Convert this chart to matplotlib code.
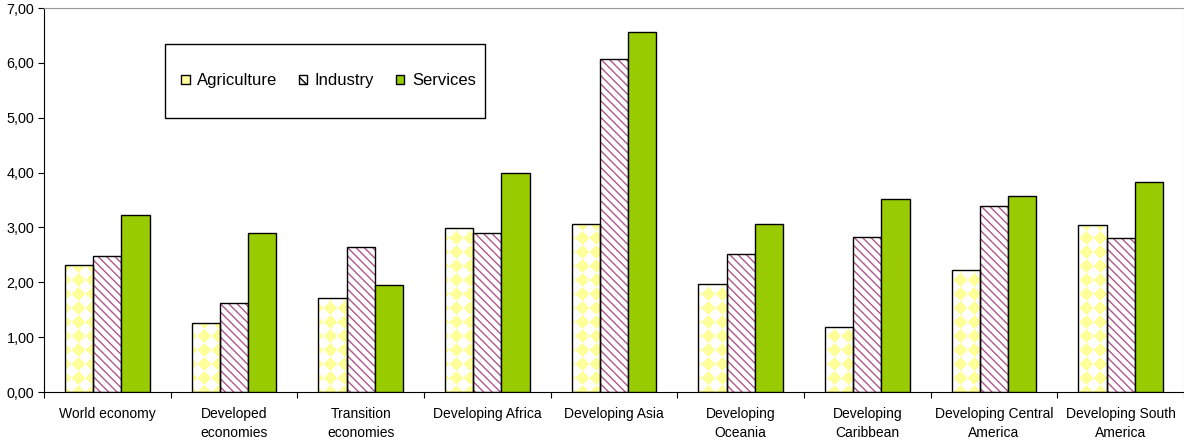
import numpy as np
import matplotlib.pyplot as plt
from matplotlib.patches import Patch, PathPatch, Rectangle
from matplotlib.path import Path
from matplotlib.colors import to_rgb
from matplotlib.ticker import FuncFormatter

plt.rcParams['font.family'] = ['Liberation Sans', 'DejaVu Sans']

# -------------------------------
# Data
# -------------------------------
regions = ['World economy', 'Developed\neconomies', 'Transition\neconomies',
           'Developing Africa', 'Developing Asia', 'Developing\nOceania',
           'Developing\nCaribbean', 'Developing Central\nAmerica',
           'Developing South\nAmerica']
agriculture = [2.31, 1.26, 1.71, 2.99, 3.06, 1.97, 1.18, 2.22, 3.04]
industry = [2.48, 1.62, 2.64, 2.90, 6.07, 2.52, 2.83, 3.39, 2.81]
services = [3.23, 2.90, 1.95, 3.99, 6.56, 3.06, 3.52, 3.57, 3.83]

yellow = '#FFFF99'
pink = '#B0578A'
green = '#99CC00'

# -------------------------------
# Figure
# -------------------------------
W, H = 1184, 444
axl, axb, axw, axh = 44, 52, 1140, 384
fig = plt.figure(figsize=(W / 100, H / 100), dpi=100)
ax = fig.add_axes([axl / W, axb / H, axw / W, axh / H])

x = np.arange(len(regions))
w = 0.222
ymax = 7

# agriculture: white bars, diamond pattern added below
agri_bars = ax.bar(x - w, agriculture, w, color='white', linewidth=0, zorder=1)

# industry: pink diagonal stripes on white
plt.rcParams['hatch.linewidth'] = 1.0
ax.bar(x, industry, w, color='white', edgecolor=pink, hatch='\\\\\\\\', linewidth=0, zorder=1)

# outlines for the patterned bars
ax.bar(x - w, agriculture, w, fill=False, edgecolor='black', linewidth=1, zorder=3)
ax.bar(x, industry, w, fill=False, edgecolor='black', linewidth=1, zorder=3)

# services: solid green
ax.bar(x + w, services, w, color=green, edgecolor='black', linewidth=1, zorder=3)

# yellow diamond checkerboard, clipped to the agriculture bars
s = 14.0
py, px = np.mgrid[0:axh, 0:axw] + 0.5
cell = (np.floor((px + py) / s) + np.floor((px - py) / s)) % 2
rgb = np.where(cell[..., None] == 0, np.array(to_rgb(yellow)), np.ones(3))
img = ax.imshow(rgb, extent=(-0.5, len(regions) - 0.5, 0, ymax), origin='lower',
                aspect='auto', interpolation='nearest', zorder=2)
paths = [b.get_path().transformed(b.get_patch_transform()) for b in agri_bars]
clip = PathPatch(Path.make_compound_path(*paths), transform=ax.transData,
                 facecolor='none', edgecolor='none')
ax.add_patch(clip)
img.set_clip_path(clip)

ax.set_xlim(-0.5, len(regions) - 0.5)
ax.set_ylim(0, ymax)
ax.set_yticks(np.arange(0, ymax + 1, 1))
ax.yaxis.set_major_formatter(FuncFormatter(lambda v, p: f'{v:.2f}'.replace('.', ',')))

# ticks on the category boundaries, labels centred under each group
ax.set_xticks(np.arange(-0.5, len(regions), 1))
ax.set_xticklabels([])
ax.set_xticks(x, minor=True)
ax.set_xticklabels(regions, minor=True, fontsize=10, linespacing=1.45)
ax.tick_params(axis='x', which='minor', length=0, pad=11)
ax.tick_params(axis='x', which='major', length=4, direction='out', color='black')
ax.tick_params(axis='y', length=4, direction='out', labelsize=10.4, pad=3)

for side in ['top', 'right']:
    ax.spines[side].set_color('#999999')
for side in ['left', 'bottom']:
    ax.spines[side].set_color('black')

# legend box drawn separately so its size is fixed
ax.add_patch(Rectangle((0.1061, 0.7135), 0.2807, 0.1927, transform=ax.transAxes,
                       facecolor='white', edgecolor='black', linewidth=1, zorder=4))
handles = [
    Patch(facecolor=yellow, edgecolor='black', label='Agriculture'),
    Patch(facecolor='white', edgecolor=pink, hatch='\\\\\\', label='Industry'),
    Patch(facecolor=green, edgecolor='black', label='Services'),
]
leg = ax.legend(handles=handles, ncol=3, loc='center',
                bbox_to_anchor=(0.2496, 0.81), frameon=False,
                fontsize=12, handlelength=0.5, handleheight=0.5, handletextpad=0.45,
                columnspacing=1.3, borderaxespad=0, borderpad=0)
leg.set_zorder(5)
leg.legend_handles[1].set_edgecolor('black')

fig.savefig('out.png', dpi=100)
